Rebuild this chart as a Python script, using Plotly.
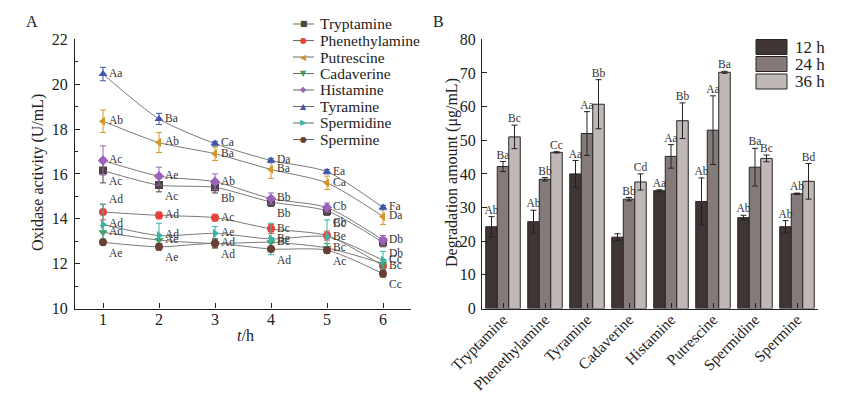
import plotly.graph_objects as go
import numpy as np

# ---------------- Panel A data ----------------
hours = [1, 2, 3, 4, 5, 6]
series_names = ["Tryptamine", "Phenethylamine", "Putrescine", "Cadaverine",
                "Histamine", "Tyramine", "Spermidine", "Spermine"]
tryptamine = [16.15, 15.5, 15.4, 14.75, 14.35, 12.95]
tryptamine_err = [0.55, 0.3, 0.25, 0.2, 0.2, 0.2]
phenethylamine = [14.3, 14.15, 14.05, 13.55, 13.25, 11.9]
phenethylamine_err = [0.35, 0.15, 0.15, 0.2, 0.2, 0.15]
putrescine = [18.35, 17.4, 16.9, 16.2, 15.6, 14.1]
putrescine_err = [0.5, 0.45, 0.3, 0.4, 0.3, 0.35]
cadaverine = [13.4, 13.05, 12.9, 12.95, 12.7, 12.0]
cadaverine_err = [0.3, 0.2, 0.2, 0.2, 0.2, 0.15]
histamine = [16.6, 15.9, 15.65, 14.9, 14.5, 13.05]
histamine_err = [0.65, 0.4, 0.35, 0.25, 0.2, 0.2]
tyramine = [20.45, 18.45, 17.35, 16.6, 16.1, 14.5]
tyramine_err = [0.3, 0.25, 0.1, 0.1, 0.1, 0.1]
spermidine = [13.75, 13.25, 13.35, 13.1, 13.2, 12.15]
spermidine_err = [0.9, 0.55, 0.3, 0.7, 0.75, 0.4]
spermine = [12.95, 12.75, 12.9, 12.65, 12.6, 11.55]
spermine_err = [0.1, 0.15, 0.2, 0.1, 0.1, 0.15]

tryptamine_lbl = ["Ac", "Ac", "Bb", "Bb", "Cb", "Db"]
phenethylamine_lbl = ["Ad", "Ad", "Ac", "Bc", "Bc", "Bc"]
putrescine_lbl = ["Ab", "Ab", "Ba", "Ba", "Ca", "Da"]
cadaverine_lbl = ["Ad", "Ae", "Ad", "Bc", "Bc", ""]
histamine_lbl = ["Ac", "Ae", "Ab", "Bb", "Cb", "Db"]
tyramine_lbl = ["Aa", "Ba", "Ca", "Da", "Ea", "Fa"]
spermidine_lbl = ["Ad", "Ad", "Ae", "Be", "Be", "Cc"]
spermine_lbl = ["Ae", "Ae", "Ad", "Ad", "Ac", "Cc"]

# ---------------- Panel B data ----------------
amines = ["Tryptamine", "Phenethylamine", "Tyramine", "Cadaverine",
          "Histamine", "Putrescine", "Spermidine", "Spermine"]
times = ["12 h", "24 h", "36 h"]
deg_12h = [24.3, 25.8, 40.0, 21.2, 35.0, 31.8, 27.0, 24.3]
deg_12h_err = [3.0, 3.4, 4.0, 1.0, 0.3, 7.0, 0.7, 1.8]
deg_24h = [42.2, 38.4, 52.0, 32.5, 45.2, 53.0, 42.0, 34.1]
deg_24h_err = [1.5, 0.5, 6.5, 0.5, 3.5, 10.2, 5.6, 0.2]
deg_36h = [51.0, 46.4, 60.7, 37.6, 55.8, 70.2, 44.6, 37.8]
deg_36h_err = [3.5, 0.2, 7.3, 2.4, 5.3, 0.3, 1.0, 5.3]
deg_12h_lbl = ["Ab", "Ab", "Aa", "", "Aa", "Ab", "Ab", "Ab"]
deg_24h_lbl = ["Ba", "Bb", "Aa", "Bb", "Aa", "Aa", "Ba", "Ab"]
deg_36h_lbl = ["Bc", "Cc", "Bb", "Cd", "Bb", "Ba", "Bc", "Bd"]

SERIF = "Liberation Serif"

fig = go.Figure()

# ----- Panel A traces -----
left_specs = [
    (tryptamine, tryptamine_err, tryptamine_lbl, "#4d4545", "square", "■",
     ["bottom right"] * 6),
    (phenethylamine, phenethylamine_err, phenethylamine_lbl, "#e8423c", "circle", "●",
     ["top right", "middle right", "middle right", "middle right", "top right", "middle right"]),
    (putrescine, putrescine_err, putrescine_lbl, "#d4962a", "triangle-left", "◀",
     ["middle right"] * 6),
    (cadaverine, cadaverine_err, cadaverine_lbl, "#3d9a60", "triangle-down", "▼",
     ["middle right"] * 6),
    (histamine, histamine_err, histamine_lbl, "#9b63b8", "diamond", "◆",
     ["middle right"] * 6),
    (tyramine, tyramine_err, tyramine_lbl, "#3f56a8", "triangle-up", "▲",
     ["middle right"] * 6),
    (spermidine, spermidine_err, spermidine_lbl, "#33b5a5", "triangle-right", "▶",
     ["middle right"] * 6),
    (spermine, spermine_err, spermine_lbl, "#6b3e35", "circle", "●",
     ["bottom right"] * 6),
]

for name, (vals, errs, lbls, col, sym, glyph, pos) in zip(series_names, left_specs):
    fig.add_trace(go.Scatter(
        x=hours, y=vals, name=name, mode="lines+markers+text",
        text=lbls, textposition=pos,
        textfont=dict(family=SERIF, size=11.5, color="#333"),
        line=dict(color="#7a7a7a", width=1, shape="spline", smoothing=0.7),
        marker=dict(color=col, symbol=sym, size=8),
        error_y=dict(type="data", array=errs, color=col, thickness=1, width=3),
        xaxis="x", yaxis="y", showlegend=False,
    ))

# ----- Panel B traces -----
idx = np.arange(len(amines))
bw = 0.274
bar_colors = ["#3f3535", "#857a7a", "#c0b8b6"]
bar_sets = [(deg_12h, deg_12h_err, deg_12h_lbl),
            (deg_24h, deg_24h_err, deg_24h_lbl),
            (deg_36h, deg_36h_err, deg_36h_lbl)]
for j, (t, (vals, errs, lbls)) in enumerate(zip(times, bar_sets)):
    xs = idx + (j - 1) * bw
    fig.add_trace(go.Bar(
        x=xs, y=vals, width=bw, name=t,
        marker=dict(color=bar_colors[j], line=dict(color="#2a2424", width=1)),
        error_y=dict(type="data", array=errs, color="#222", thickness=1, width=3),
        xaxis="x2", yaxis="y2", showlegend=False,
    ))
    tops = np.array(vals) + np.array(errs)
    fig.add_trace(go.Scatter(
        x=xs, y=tops, mode="text", text=lbls, textposition="top center",
        textfont=dict(family=SERIF, size=11.5, color="#333"),
        xaxis="x2", yaxis="y2", showlegend=False, hoverinfo="skip",
    ))

# ----- Layout -----
xA = [75 / 853, 411 / 853]
xB = [482 / 853, 818 / 853]
yD = [1 - 308.5 / 393, 1 - 39.3 / 393]

axis_common = dict(showline=True, linecolor="#222", linewidth=1.2, showgrid=False,
                   zeroline=False, ticks="inside", ticklen=5, tickcolor="#222",
                   automargin=False,
                   tickfont=dict(family=SERIF, size=16, color="#222"))

fig.update_layout(
    width=853, height=393,
    margin=dict(l=0, r=0, t=0, b=0),
    paper_bgcolor="white", plot_bgcolor="white",
    font=dict(family=SERIF, color="#222"),
    xaxis=dict(domain=xA, range=[0.5, 6.5], tickvals=hours, anchor="y",
               ticklabelstandoff=-4, **axis_common),
    yaxis=dict(domain=yD, range=[10, 22], dtick=2, anchor="x", ticklabelstandoff=3,
               minor=dict(ticks="inside", ticklen=3, dtick=1, tickcolor="#222"),
               **axis_common),
    xaxis2=dict(domain=xB, range=[-0.5, 7.5], tickvals=list(idx), ticktext=amines,
                tickangle=-45, anchor="y2", ticklabelstandoff=-5, **axis_common),
    yaxis2=dict(domain=yD, range=[0, 80], dtick=10, anchor="x2", ticklabelstandoff=2,
                **axis_common),
    barmode="overlay",
    showlegend=False,
)
fig.update_xaxes(tickfont=dict(family=SERIF, size=15.5, color="#222"), selector=dict(anchor="y2"))

def px(xp):
    return xp / 853

def py(yp):
    return 1 - yp / 393

annotations = [
    dict(text="A", x=px(24), y=py(22), xanchor="left", yanchor="middle",
         font=dict(family=SERIF, size=16)),
    dict(text="B", x=px(431), y=py(22), xanchor="left", yanchor="middle",
         font=dict(family=SERIF, size=16)),
    dict(text="Oxidase activity (U/mL)", x=px(38), y=py(173), xanchor="center",
         yanchor="middle", textangle=-90, font=dict(family=SERIF, size=16)),
    dict(text="Degradation amount (μg/mL)", x=px(452), y=py(173), xanchor="center",
         yanchor="middle", textangle=-90, font=dict(family=SERIF, size=16)),
    dict(text="<i>t</i>/h", x=px(245), y=py(335), xanchor="center", yanchor="middle",
         font=dict(family=SERIF, size=16)),
]
shapes = []

# Legend for panel A (drawn manually to match compact spacing)
leg_y0, leg_dy = 24, 16.5
for k, (name, spec) in enumerate(zip(series_names, left_specs)):
    col, glyph = spec[3], spec[5]
    yy = leg_y0 + k * leg_dy
    shapes.append(dict(type="line", xref="paper", yref="paper",
                       x0=px(293), x1=px(314), y0=py(yy), y1=py(yy),
                       line=dict(color="#6a6a6a", width=1)))
    annotations.append(dict(text=glyph, x=px(303.5), y=py(yy), xanchor="center",
                            yanchor="middle", font=dict(family="DejaVu Sans", size=8, color=col)))
    annotations.append(dict(text=name, x=px(318), y=py(yy), xanchor="left",
                            yanchor="middle", font=dict(family=SERIF, size=15.5)))

# Legend for panel B
row_y = [47, 64, 81.5]
for j, t in enumerate(times):
    shapes.append(dict(type="rect", xref="paper", yref="paper",
                       x0=px(756), x1=px(787), y0=py(row_y[j] + 7.5), y1=py(row_y[j] - 7.5),
                       fillcolor=bar_colors[j], line=dict(color="#2a2424", width=1)))
    annotations.append(dict(text=t, x=px(793), y=py(row_y[j]), xanchor="left",
                            yanchor="middle", font=dict(family=SERIF, size=17)))

for a in annotations:
    a.update(xref="paper", yref="paper", showarrow=False)
fig.update_layout(annotations=annotations, shapes=shapes)

fig.write_html("out.html", config={"displayModeBar": False},
               post_script="document.body.style.margin='0';document.body.style.padding='0';")
